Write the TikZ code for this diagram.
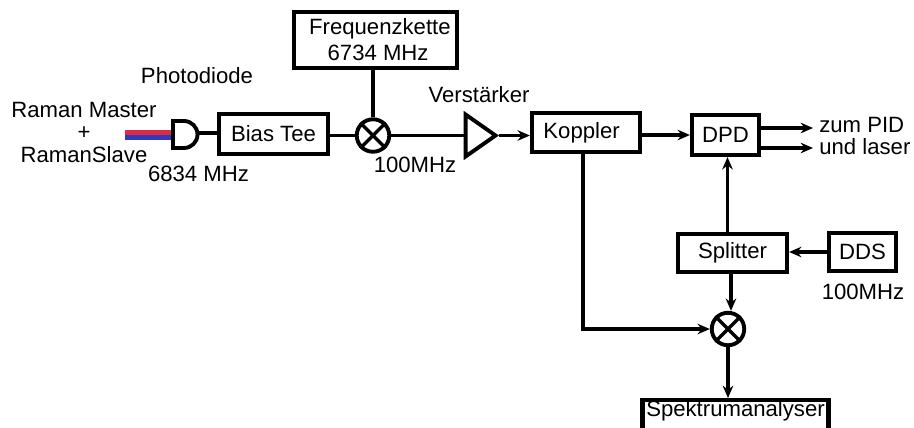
\documentclass[tikz,border=0pt]{standalone}
\usepackage{fontspec}
\setmainfont{Liberation Sans}
\usetikzlibrary{arrows.meta, shapes.geometric}
\definecolor{ramanred}{RGB}{219,43,71}
\definecolor{ramanblue}{RGB}{49,58,190}
\tikzset{
  block/.style={draw, line width=2.4pt, fill=white, inner sep=0pt, align=center},
  mixer/.style={draw, circle, line width=2.2pt, minimum size=0.65cm, inner sep=0pt},
  wire/.style={line width=2pt},
  feed/.style={wire, -{Stealth[length=7pt,width=6pt]}},
  label/.style={inner sep=0pt, align=center}
}
\begin{document}
\begin{tikzpicture}[x=0.02cm, y=-0.02cm, font=\fontsize{12.6}{12.8}\selectfont]
  \useasboundingbox (0,0) rectangle (914,427);
  % Blocks
  \node[block, minimum width=3.26cm, minimum height=1.12cm, font=\fontsize{12.6}{14.8}\selectfont] (freq) at (375.5,40)
    {\hspace*{5pt}Frequenzkette\\\hspace*{3pt}6734 MHz};
  \node[block, minimum width=2.18cm, minimum height=0.8cm] (bias) at (273.5,134) {Bias Tee};
  \node[block, minimum width=2.16cm, minimum height=0.78cm] (koppler) at (586,132.5) {Koppler\hspace*{5pt}};
  \node[block, minimum width=1.34cm, minimum height=0.8cm] (dpd) at (725.5,135) {DPD};
  \node[block, minimum width=2.18cm, minimum height=0.76cm] (splitter) at (732.5,253) {Splitter};
  \node[block, minimum width=1.34cm, minimum height=0.76cm] (dds) at (862.5,252) {DDS};
  \node[block, minimum width=3.72cm, minimum height=1cm, anchor=north] (spektrum) at (735.5,398) {};
  \node[label] (spektrumtext) at (735.5,411) {Spektrumanalyser};
  % Mixers
  \node[mixer] (mixa) at (373,135.5) {};
  \draw[wire] (mixa.45) -- (mixa.225) (mixa.135) -- (mixa.315);
  \node[mixer] (mixb) at (728,329) {};
  \draw[wire] (mixb.45) -- (mixb.225) (mixb.135) -- (mixb.315);
  % Amplifier
  \node[draw, isosceles triangle, isosceles triangle apex angle=70, line width=2.2pt,
    minimum height=0.6cm, minimum width=0.82cm, inner sep=0pt] (amp) at (476.5,135.5) {};
  % Fibre and photodiode
  \fill[ramanred] (125,130) rectangle (172,135);
  \fill[ramanblue] (125,135) rectangle (172,140);
  \draw[line width=2.2pt] (173,121) -- (173,148) -- (184,148) arc (90:-90:13.5) -- cycle;
  \coordinate (pd) at (197.5,133);
  % Connectors
  \draw[wire] (pd) -- (pd -| bias.west);
  \draw[wire] (mixa.west -| bias.east) -- (mixa.west);
  \draw[wire] (freq.south -| mixa.north) -- (mixa.north);
  \draw[wire] (mixa.east) -- (mixa.east -| amp.west);
  \draw[feed] (amp.apex) -- (amp.apex -| koppler.west);
  \draw[feed] (koppler.east |- dpd.west) -- (dpd.west);
  \coordinate (pida) at (813,128);
  \coordinate (pidb) at (813,148);
  \draw[feed] (dpd.east |- pida) -- (pida);
  \draw[feed] (dpd.east |- pidb) -- (pidb);
  \draw[feed] ([xshift=0.04cm]dpd.south |- splitter.north) -- ([xshift=0.04cm]dpd.south);
  \draw[feed] (dds.west) -- (dds.west -| splitter.east);
  \draw[feed] ([xshift=0.06cm]mixb.north |- splitter.south) -- ([xshift=0.06cm]mixb.north);
  \draw[feed] ([xshift=-0.06cm]koppler.south) |- (mixb.west);
  \draw[feed] (mixb.south) -- (spektrum.north -| mixb.south);
  % Labels
  \node[label] (photo) at (197,76) {Photodiode};
  \node[label] (raman) at (84,132) {Raman Master\\+\\RamanSlave};
  \node[label] (ratein) at (198.5,174) {6834 MHz};
  \node[label] (ifa) at (415,165) {100MHz};
  \node[label] (verst) at (479,95) {Verstärker};
  \node[label, anchor=west] (pidtext) at (819,125) {zum PID};
  \node[label, anchor=west] (lasertext) at (819,147) {und laser};
  \node[label] (ddsrate) at (863,292) {100MHz};
\end{tikzpicture}
\end{document}
